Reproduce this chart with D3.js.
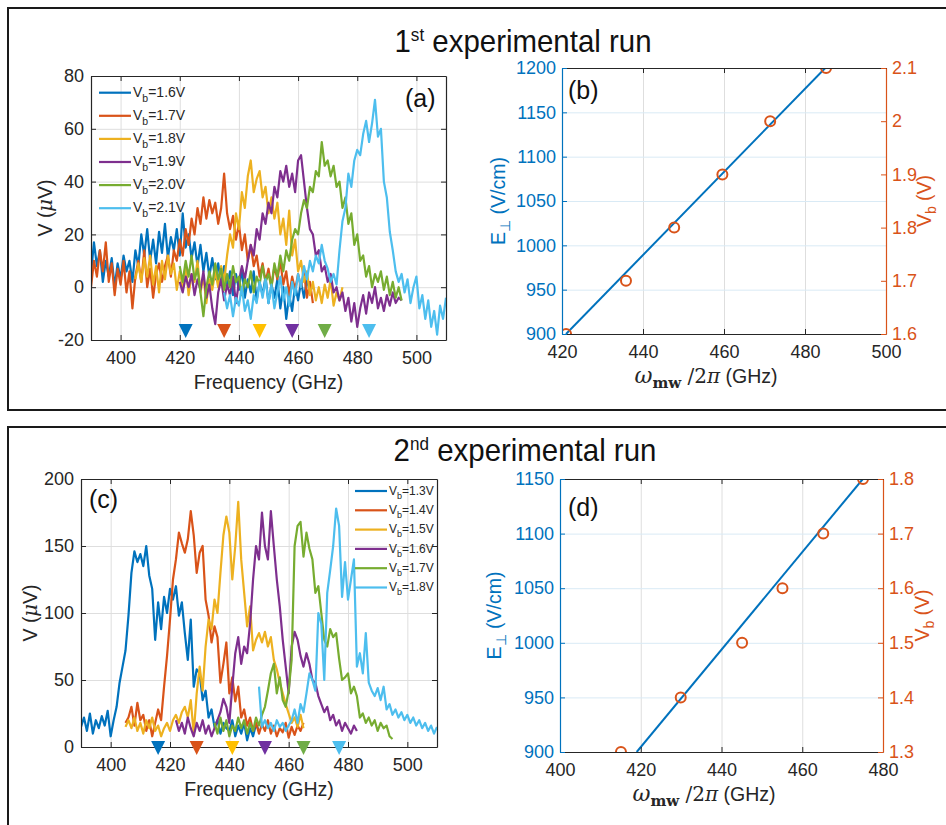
<!DOCTYPE html>
<html>
<head>
<meta charset="utf-8">
<script src="https://cdn.jsdelivr.net/npm/d3@7"></script>
<style>
  body { margin: 0; background: #fff; }
  text { font-family: "Liberation Sans", Arial, Helvetica, sans-serif; }
</style>
</head>
<body>
<svg id="fig" width="946" height="825"></svg>
<script>
// ---------------- data ----------------
const seriesColors = ["#0072BD", "#D95319", "#EDB120", "#7E2F8E", "#77AC30", "#4DBEEE"];
const markerColors = ["#0072BD", "#D95319", "#FFC000", "#7030A0", "#70AD47", "#4DBEEE"];
const freqStep = 1; // GHz between samples of each spectrum
const freqTicks = [400, 420, 440, 460, 480, 500];

// 1st run: detector voltage (uV) vs frequency, one spectrum per bias voltage
const run1Bias = ["1.6V", "1.7V", "1.8V", "1.9V", "2.0V", "2.1V"];
const run1Start = [390, 390, 405, 420, 420, 435];
const run1_vb16 = [5,17,8,14,2,10,4,11,0,9, 3,12,6,10,2,14,8,20,12,22, 10,18,9,21,13,24,11,19,14,22,
  12,28,15,20,11,17,8,16,6,13, 4,11,3,9,1,8,0,6,-3,5, -1,7,-4,3,-2,6,-5,2,-3,4, -6,1,-4,3,-8,0,-12,-3,-9,1, -5,2,-4,3,-2,1];
const run1_vb17 = [0,10,4,14,6,17,2,9,-3,7, 1,10,-2,6,-8,4,10,2,14,0, 7,-4,5,9,2,8,12,4,14,10,
  18,12,22,16,26,20,30,24,34,26, 33,28,32,24,30,43,28,22,27,18, 24,14,20,10,16,8,12,4,9,2, 7,0,8,3,10,1,6,-3,4,-1, 5,0,6,-4,2,-6];
const run1_vb18 = [3,9,2,11,4,12,1,8,-2,10, 3,12,5,9,-1,6,0,8,-3,5, 2,10,-2,4,-6,3,-1,6,0,8,
  2,12,20,15,28,22,36,30,42,48, 36,41,44,34,38,28,34,26,32,20, 26,16,29,12,18,6,10,2,6,-3, 2,-5,0,-6,1,-4,3,-7,-2,-5, 0];
const run1_vb19 = [2,-2,4,0,5,-3,3,-1,6,-4, 1,-8,-14,-2,3,-5,1,-3,4,-6, 2,8,3,10,16,12,22,18,28,24,
  32,28,38,34,44,40,46,38,43,36, 48,50,40,30,22,20,12,14,6,8, 2,5,-2,0,-5,-2,-9,-4,-13,-6, -15,-8,-3,-10,-2,-6,0,-8,-4,-9, -3,-7,-2,-6,-4,-5];
const run1_vb20 = [8,2,10,4,12,3,7,-2,-11,0, 6,1,9,3,7,-1,5,0,8,2, 4,-3,3,0,6,-2,4,1,8,2,
  5,0,9,4,12,6,14,10,18,22, 20,28,33,30,38,36,44,42,55,46, 48,42,46,38,40,30,34,24,28,16, 20,10,12,4,8,0,5,2,6,-1, 4,-3,2,-4,0,-5];
const run1_vb21 = [-2,-8,-3,-11,-4,-7,0,-9,-5,-12, -3,-6,2,-4,3,-6,1,-8,-2,4, -5,0,-7,2,-3,5,0,8,3,10,
  6,12,9,16,10,7,2,5,1,14, 25,30,43,38,48,52,50,58,63,55, 62,71,57,60,40,34,21,14,6,2, 5,-2,3,-6,0,4,-8,-3,-12,-5, -15,-9,-18,-7,-12,-4];
const run1Markers = [422, 435, 447, 458, 469, 484];

// 2nd run
const run2Bias = ["1.3V", "1.4V", "1.5V", "1.6V", "1.7V", "1.8V"];
const run2Start = [390, 405, 405, 422, 435, 450];
const run2_vb13 = [15,22,12,25,10,20,14,23,16,27, 8,20,30,48,60,72,98,130,146,138, 144,135,150,128,118,80,108,88,112,100,
  118,110,120,98,108,85,65,95,45,58, 55,35,42,22,28,15,20,10,18,14, 12,20,8,16,10,18,5,14,8,17, 12];
const run2_vb14 = [18,22,30,16,33,20,24,12,20,8, 18,28,20,45,68,95,125,140,160,152, 145,155,176,158,130,145,150,110,98,78,
  90,82,48,62,78,40,52,34,45,22, 28,16,22,12,18,10,17,12,20,10, 16,8,14,11,18,7,15,9,16,12, 18];
const run2_vb15 = [15,20,14,22,12,18,10,20,14,22, 12,16,8,14,18,12,20,24,18,26, 30,22,35,10,40,60,42,75,95,88,
  110,100,130,158,172,160,125,150,183,140, 115,90,105,72,80,85,78,86,75,82, 65,58,48,40,32,25,18,22,15,24, 14];
const run2_vb16 = [20,12,18,10,22,14,8,18,12,20, 10,16,8,14,20,26,36,30,18,45, 70,82,62,75,70,92,125,150,140,175,
  150,140,176,150,125,105,80,60,40,75, 86,80,68,60,70,62,50,48,38,32, 26,30,20,24,16,20,12,18,14,10, 16,12];
const run2_vb17 = [18,10,22,12,20,8,16,12,22,14, 20,10,18,12,22,16,24,30,42,55, 62,40,52,35,30,42,65,150,165,168,
  142,160,148,140,115,120,100,80,75,88, 82,85,66,50,52,55,40,45,38,22, 25,18,22,16,20,12,18,14,16,8, 6];
const run2_vb18 = [45,15,20,14,18,12,20,15,18,12, 16,20,28,18,32,26,40,55,50,42, 100,92,50,115,132,150,178,165,112,138,
  110,125,140,60,70,55,85,48,42,38, 44,35,45,28,32,24,28,22,26,20, 24,18,22,16,20,14,18,12,16,10, 15];
const run2Markers = [416, 429, 441, 452, 465, 477];

// resonance positions vs bias, with linear field calibration
const peakFreq1 = [421, 435.8, 447.7, 459.6, 471.4, 485.2];
const peakBias1 = [1.6, 1.7, 1.8, 1.9, 2.0, 2.1];
const fitFreq1 = [421, 485];
const fitField1 = [900, 1200];
const peakFreq2 = [415.1, 429.9, 445.1, 455.1, 465.2, 475.05];
const peakBias2 = [1.3, 1.4, 1.5, 1.6, 1.7, 1.8];
const fitFreq2 = [419, 475];
const fitField2 = [900, 1150];

// ---------------- drawing ----------------
const svg = d3.select("#fig");
const ink = "#262626";
const gridGray = "#dedede";
const gridBlue = "#d9eaf5";
const blue = "#0072BD", orange = "#D95319";
const sans = '"Liberation Sans", Arial, Helvetica, sans-serif';
const serif = '"DejaVu Serif", "Liberation Serif", serif';
const tickFont = 18;
const labelFont = 19.5;

function styleAxis(s, color) {
  s.attr("font-family", sans).attr("font-size", tickFont);
  s.selectAll(".domain").attr("stroke", color).attr("stroke-width", 1.2);
  s.selectAll(".tick line").attr("stroke", color).attr("stroke-width", 1);
  s.selectAll(".tick text").attr("fill", color);
}

function richText(parent, x, y, parts, attrs) {
  const t = parent.append("text").attr("x", x).attr("y", y);
  Object.entries(attrs || {}).forEach(([k, v]) => t.attr(k, v));
  parts.forEach(p => {
    const s = t.append("tspan").text(p.t);
    if (p.size) s.attr("font-size", p.size);
    if (p.dy) s.attr("dy", p.dy);
    if (p.family) s.attr("font-family", p.family);
    if (p.italic) s.attr("font-style", "italic");
    if (p.bold) s.attr("font-weight", "bold");
  });
  return t;
}

const fmt = d => String(+d.toFixed(2));

// outer frames and run titles
svg.append("rect").attr("x", 8).attr("y", 8).attr("width", 960).attr("height", 402)
  .attr("fill", "none").attr("stroke", "#1a1a1a").attr("stroke-width", 2);
svg.append("rect").attr("x", 8).attr("y", 427).attr("width", 960).attr("height", 420)
  .attr("fill", "none").attr("stroke", "#1a1a1a").attr("stroke-width", 2);

function runTitle(cx, y, num, sup) {
  const g = svg.append("g").attr("transform", `translate(${cx},${y}) scale(0.95,1)`);
  richText(g, 0, 0, [
    { t: num, size: 31 },
    { t: sup, size: 18, dy: -11 },
    { t: " experimental run", size: 31, dy: 11 }
  ], { "text-anchor": "middle", fill: "#111" });
}
runTitle(523, 52, "1", "st");
runTitle(525, 461, "2", "nd");

function spectraPanel(cfg) {
  const g = svg.append("g");
  const x = d3.scaleLinear().domain([390, 510]).range(cfg.xRange);
  const y = d3.scaleLinear().domain(cfg.yDomain).range(cfg.yRange);
  const [L, R] = cfg.xRange, [B, T] = cfg.yRange;

  g.append("g").attr("transform", `translate(0,${B})`)
    .call(d3.axisBottom(x).tickValues(freqTicks).tickSize(-(B - T)).tickFormat(""))
    .call(s => { s.select(".domain").remove(); s.selectAll("line").attr("stroke", gridGray); });
  g.append("g").attr("transform", `translate(${L},0)`)
    .call(d3.axisLeft(y).tickValues(cfg.yTicks).tickSize(-(R - L)).tickFormat(""))
    .call(s => { s.select(".domain").remove(); s.selectAll("line").attr("stroke", gridGray); });

  const clipId = cfg.id + "-clip";
  svg.append("clipPath").attr("id", clipId).append("rect")
    .attr("x", L).attr("y", T).attr("width", R - L).attr("height", B - T);

  const line = d3.line().x(d => x(d[0])).y(d => y(d[1]));
  cfg.series.forEach((vals, i) => {
    const pts = vals.map((v, k) => [cfg.starts[i] + k * freqStep, v]);
    g.append("path").datum(pts).attr("d", line)
      .attr("fill", "none").attr("stroke", seriesColors[i]).attr("stroke-width", 2.2)
      .attr("stroke-linejoin", "round").attr("clip-path", `url(#${clipId})`);
  });

  g.append("g").attr("transform", `translate(0,${B})`)
    .call(d3.axisBottom(x).tickValues(freqTicks).tickSize(-5).tickSizeOuter(0).tickPadding(11))
    .call(s => styleAxis(s, ink));
  g.append("g").attr("transform", `translate(0,${T})`)
    .call(d3.axisTop(x).tickValues(freqTicks).tickSize(-5).tickSizeOuter(0).tickFormat(""))
    .call(s => styleAxis(s, ink));
  g.append("g").attr("transform", `translate(${L},0)`)
    .call(d3.axisLeft(y).tickValues(cfg.yTicks).tickSize(-5).tickSizeOuter(0).tickPadding(7).tickFormat(fmt))
    .call(s => styleAxis(s, ink));
  g.append("g").attr("transform", `translate(${R},0)`)
    .call(d3.axisRight(y).tickValues(cfg.yTicks).tickSize(-5).tickSizeOuter(0).tickFormat(""))
    .call(s => styleAxis(s, ink));

  // resonance markers along the frequency axis
  cfg.markers.forEach((f, i) => {
    const cx = x(f);
    g.append("path")
      .attr("d", `M${cx - 7},${cfg.markTop} L${cx + 7},${cfg.markTop} L${cx},${cfg.markTop + 14} Z`)
      .attr("fill", markerColors[i]);
  });

  // legend
  const lg = cfg.legend;
  cfg.labels.forEach((lab, i) => {
    const ly = lg.y0 + i * lg.dy;
    g.append("line").attr("x1", lg.x0).attr("x2", lg.x1).attr("y1", ly).attr("y2", ly)
      .attr("stroke", seriesColors[i]).attr("stroke-width", 2.2);
    richText(g, lg.tx, ly + lg.fs * 0.3, [
      { t: "V" },
      { t: "b", size: lg.fs * 0.75, dy: lg.fs * 0.35 },
      { t: "=" + lab, dy: -lg.fs * 0.35 }
    ], { "font-size": lg.fs, fill: ink });
  });

  g.append("text").attr("x", cfg.tag[0]).attr("y", cfg.tag[1]).attr("font-size", 25)
    .attr("fill", "#111").text(cfg.tagText);

  g.append("text").attr("x", (L + R) / 2).attr("y", cfg.xLabelY).attr("text-anchor", "middle")
    .attr("font-size", labelFont).attr("fill", ink).text("Frequency (GHz)");
  richText(g, 0, 0, [
    { t: "V (" }, { t: "μ", family: serif, italic: true }, { t: "V)" }
  ], { "text-anchor": "middle", "font-size": labelFont, fill: ink,
       transform: `translate(${cfg.yLabelX},${(B + T) / 2}) rotate(-90)` });
}

spectraPanel({
  id: "pa", xRange: [91, 446], yDomain: [-20, 80], yRange: [340, 76],
  yTicks: [-20, 0, 20, 40, 60, 80],
  series: [run1_vb16, run1_vb17, run1_vb18, run1_vb19, run1_vb20, run1_vb21],
  starts: run1Start, labels: run1Bias, markers: run1Markers, markTop: 324,
  legend: { x0: 99, x1: 131, tx: 133, y0: 92.7, dy: 23.1, fs: 14 },
  tag: [405, 107], tagText: "(a)", xLabelY: 389, yLabelX: 52
});

spectraPanel({
  id: "pc", xRange: [81, 437], yDomain: [0, 200], yRange: [747, 479],
  yTicks: [0, 50, 100, 150, 200],
  series: [run2_vb13, run2_vb14, run2_vb15, run2_vb16, run2_vb17, run2_vb18],
  starts: run2Start, labels: run2Bias, markers: run2Markers, markTop: 741,
  legend: { x0: 355, x1: 387, tx: 389, y0: 491, dy: 19.3, fs: 12 },
  tag: [89, 508], tagText: "(c)", xLabelY: 796, yLabelX: 37
});

function fieldPanel(cfg) {
  const g = svg.append("g");
  const x = d3.scaleLinear().domain(cfg.xDomain).range(cfg.xRange);
  const yE = d3.scaleLinear().domain(cfg.eDomain).range(cfg.yRange);
  const yV = d3.scaleLinear().domain(cfg.vDomain).range(cfg.yRange);
  const [L, R] = cfg.xRange, [B, T] = cfg.yRange;

  g.append("g").attr("transform", `translate(0,${B})`)
    .call(d3.axisBottom(x).tickValues(cfg.xTicks).tickSize(-(B - T)).tickFormat(""))
    .call(s => { s.select(".domain").remove(); s.selectAll("line").attr("stroke", gridGray); });
  g.append("g").attr("transform", `translate(${L},0)`)
    .call(d3.axisLeft(yE).tickValues(cfg.eTicks).tickSize(-(R - L)).tickFormat(""))
    .call(s => { s.select(".domain").remove(); s.selectAll("line").attr("stroke", gridBlue); });

  const clipId = cfg.id + "-clip";
  svg.append("clipPath").attr("id", clipId).append("rect")
    .attr("x", L).attr("y", T).attr("width", R - L).attr("height", B - T);

  const fit = cfg.fitFreq.map((f, i) => [f, cfg.fitField[i]]);
  g.append("path").datum(fit)
    .attr("d", d3.line().x(d => x(d[0])).y(d => yE(d[1])))
    .attr("fill", "none").attr("stroke", blue).attr("stroke-width", 2)
    .attr("clip-path", `url(#${clipId})`);

  g.selectAll(null).data(cfg.peakFreq.map((f, i) => [f, cfg.peakBias[i]])).join("circle")
    .attr("cx", d => x(d[0])).attr("cy", d => yV(d[1])).attr("r", 5)
    .attr("fill", "none").attr("stroke", orange).attr("stroke-width", 2)
    .attr("clip-path", `url(#${clipId})`);

  g.append("g").attr("transform", `translate(0,${B})`)
    .call(d3.axisBottom(x).tickValues(cfg.xTicks).tickSize(-5).tickSizeOuter(0).tickPadding(11))
    .call(s => styleAxis(s, ink));
  g.append("g").attr("transform", `translate(0,${T})`)
    .call(d3.axisTop(x).tickValues(cfg.xTicks).tickSize(-5).tickSizeOuter(0).tickFormat(""))
    .call(s => styleAxis(s, ink));
  g.append("g").attr("transform", `translate(${L},0)`)
    .call(d3.axisLeft(yE).tickValues(cfg.eTicks).tickSize(-5).tickSizeOuter(0).tickPadding(6).tickFormat(fmt))
    .call(s => styleAxis(s, blue));
  g.append("g").attr("transform", `translate(${R},0)`)
    .call(d3.axisRight(yV).tickValues(cfg.vTicks).tickSize(-5).tickSizeOuter(0).tickPadding(6).tickFormat(fmt))
    .call(s => styleAxis(s, orange));

  g.append("text").attr("x", cfg.tag[0]).attr("y", cfg.tag[1]).attr("font-size", 25)
    .attr("fill", "#111").text(cfg.tagText);

  richText(g, cfg.xLabel[0], cfg.xLabel[1], [
    { t: "ω", family: serif, italic: true, size: 22 },
    { t: "mw", family: serif, bold: true, size: 15, dy: 5 },
    { t: " /2", family: serif, size: 20, dy: -5 },
    { t: "π", family: serif, italic: true, size: 20 },
    { t: " (GHz)", size: labelFont }
  ], { "text-anchor": "middle", fill: ink });

  richText(g, 0, 0, [
    { t: "E" }, { t: "⊥", size: 14, dy: 5 }, { t: " (V/cm)", dy: -5 }
  ], { "text-anchor": "middle", "font-size": labelFont, fill: blue,
       transform: `translate(${cfg.eLabelX},${(B + T) / 2}) rotate(-90)` });
  richText(g, 0, 0, [
    { t: "V" }, { t: "b", size: 14, dy: 5 }, { t: " (V)", dy: -5 }
  ], { "text-anchor": "middle", "font-size": labelFont, fill: orange,
       transform: `translate(${cfg.vLabelX},${(B + T) / 2}) rotate(-90)` });
}

fieldPanel({
  id: "pb", xDomain: [420, 500], xRange: [562, 886], xTicks: [420, 440, 460, 480, 500],
  eDomain: [900, 1200], vDomain: [1.6, 2.1], yRange: [334, 68],
  eTicks: [900, 950, 1000, 1050, 1100, 1150, 1200], vTicks: [1.6, 1.7, 1.8, 1.9, 2.0, 2.1],
  peakFreq: peakFreq1, peakBias: peakBias1, fitFreq: fitFreq1, fitField: fitField1,
  tag: [568, 99], tagText: "(b)", xLabel: [706, 383], eLabelX: 505, vLabelX: 931
});

fieldPanel({
  id: "pd", xDomain: [400, 480], xRange: [560, 883], xTicks: [400, 420, 440, 460, 480],
  eDomain: [900, 1150], vDomain: [1.3, 1.8], yRange: [752, 479],
  eTicks: [900, 950, 1000, 1050, 1100, 1150], vTicks: [1.3, 1.4, 1.5, 1.6, 1.7, 1.8],
  peakFreq: peakFreq2, peakBias: peakBias2, fitFreq: fitFreq2, fitField: fitField2,
  tag: [568, 516], tagText: "(d)", xLabel: [704, 801], eLabelX: 501, vLabelX: 929
});
</script>
</body>
</html>
